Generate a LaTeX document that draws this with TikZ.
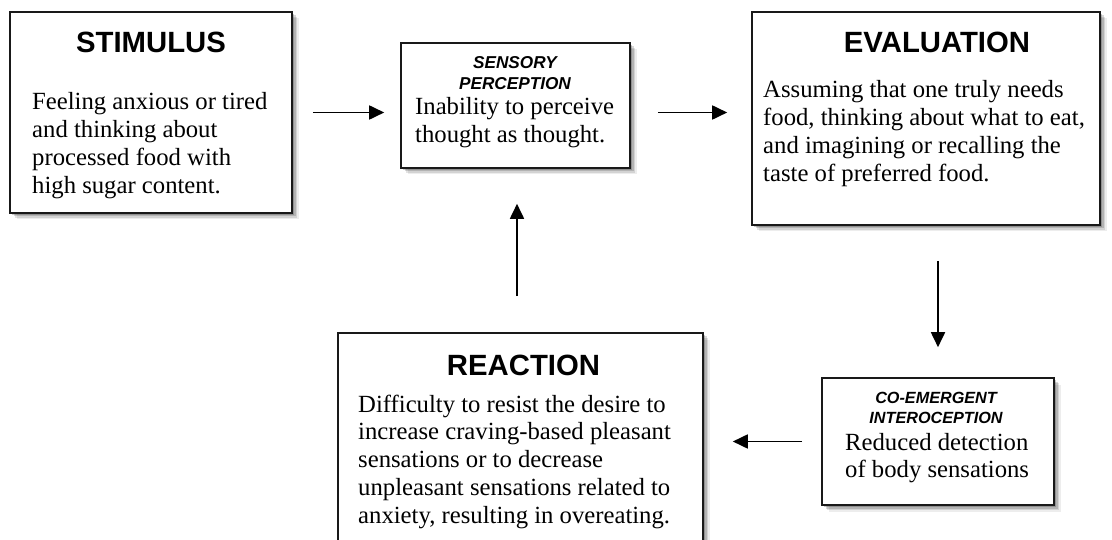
\documentclass[tikz,border=0pt]{standalone}
\usepackage{fontspec}
\setmainfont{Liberation Serif}
\newfontfamily\arialf{Liberation Sans}
\usetikzlibrary{arrows.meta,shadows,calc}
\tikzset{
  softshadow/.style={
    general shadow={shadow xshift=2pt,shadow yshift=-2pt,fill=black,opacity=.2},
    general shadow={shadow xshift=3.5pt,shadow yshift=-3.5pt,fill=black,opacity=.15},
    general shadow={shadow xshift=5pt,shadow yshift=-5pt,fill=black,opacity=.11},
    general shadow={shadow xshift=6.5pt,shadow yshift=-6.5pt,fill=black,opacity=.07}},
  box/.style={draw=black!90,line width=1.6pt,fill=white,softshadow,inner sep=0pt},
  bigtitle/.style={font=\arialf\bfseries\fontsize{29.3}{33}\selectfont,anchor=base,inner sep=0pt},
  smalltitle/.style={font=\arialf\bfseries\itshape\fontsize{17.2}{20}\selectfont,anchor=base,inner sep=0pt},
  body/.style={font=\fontsize{24.7}{27.8}\selectfont,anchor=base west,inner sep=0pt},
  arr/.style={line width=1.8pt,-{Triangle[length=15pt,width=14pt]}}
}
\newcommand{\lines}[1]{\begin{tabular}[t]{@{}l@{}}#1\end{tabular}}
\begin{document}
\begin{tikzpicture}[x=1pt,y=-1pt]
\useasboundingbox (0,0) rectangle (1112,540);
\clip (0,0) rectangle (1112,540);
% boxes
\node[box,minimum width=282pt,minimum height=201pt] (stim) at (151,112.5) {};
\node[box,minimum width=229pt,minimum height=125pt] (sens) at (515.5,105.5) {};
\node[box,minimum width=348pt,minimum height=213pt] (eval) at (926,118.5) {};
\node[box,minimum width=365pt,minimum height=237pt] (react) at (520.5,451.5) {};
\node[box,minimum width=232pt,minimum height=127pt] (coem) at (938,441.5) {};
% texts
\node[bigtitle] (stimT) at (151,53) {STIMULUS};
\node[body] (stimB) at (32,110) {\lines{Feeling anxious or tired\\and thinking about\\processed food with\\high sugar content.}};
\node[smalltitle] (sensT1) at (515,69) {SENSORY};
\node[smalltitle] (sensT2) at (515,90) {PERCEPTION};
\node[body] (sensB) at (415,115) {\lines{Inability to perceive\\thought as thought.}};
\node[bigtitle] (evalT) at (937,53) {EVALUATION};
\node[body] (evalB) at (763,98) {\lines{Assuming that one truly needs\\food, thinking about what to eat,\\and imagining or recalling the\\taste of preferred food.}};
\node[bigtitle] (reactT) at (523.5,375) {REACTION};
\node[body] (reactB) at (358,412) {\lines{Difficulty to resist the desire to\\increase craving-based pleasant\\sensations or to decrease\\unpleasant sensations related to\\anxiety, resulting in overeating.}};
\node[smalltitle,font=\arialf\bfseries\itshape\fontsize{16.2}{20}\selectfont] (coemT1) at (936,403) {CO-EMERGENT};
\node[smalltitle,font=\arialf\bfseries\itshape\fontsize{16.2}{20}\selectfont] (coemT2) at (936,423) {INTEROCEPTION};
\node[body] (coemB) at (845,450) {\lines{Reduced detection\\of body sensations}};
% arrows
\draw[arr] ($(stim.east)+(20,0)$) -- ($(stim.east -| sens.west)+(-16,0)$);
\draw[arr] ($(sens.east |- stim.east)+(27,0)$) -- ($(eval.west |- stim.east)+(-24,0)$);
\draw[arr] ($(coem.north |- eval.south)+(0,35)$) -- ($(coem.north)+(0,-30)$);
\draw[arr] ($(coem.west)+(-19,0)$) -- ($(coem.west -| react.east)+(29,0)$);
\draw[arr] ($(react.north)+(-3.5,-36)$) -- ($(sens.south)+(1.5,35)$);
\end{tikzpicture}
\end{document}
